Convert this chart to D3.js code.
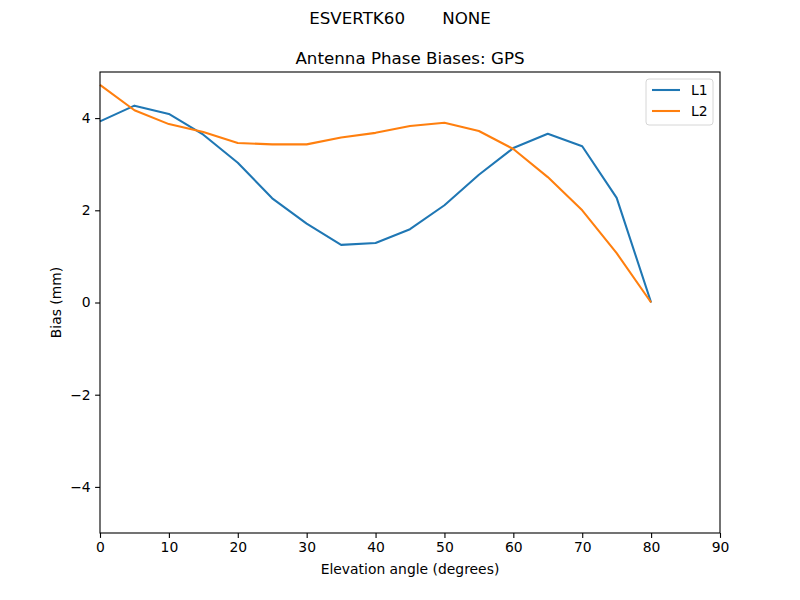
<!DOCTYPE html>
<meta charset="utf-8">
<style>
  body { margin: 0; background: #fff; }
  text { font-family: 'DejaVu Sans', sans-serif; fill: #000; }
  .line { fill: none; stroke-width: 2.08px; stroke-linejoin: round; }
</style>
<body>
<script src="https://d3js.org/d3.v7.min.js"></script>
<script>
// elevation angles and biases
var elev = [0, 5, 10, 15, 20, 25, 30, 35, 40, 45, 50, 55, 60, 65, 70, 75, 80];
var l1 = [3.93, 4.27, 4.09, 3.64, 3.03, 2.26, 1.71, 1.25, 1.29, 1.59, 2.11, 2.77, 3.35, 3.66, 3.39, 2.27, 0];
var l2 = [4.72, 4.17, 3.87, 3.70, 3.46, 3.43, 3.43, 3.58, 3.68, 3.83, 3.90, 3.72, 3.33, 2.72, 2.0, 1.07, 0];
var xTicks = [0, 10, 20, 30, 40, 50, 60, 70, 80, 90];
var yTicks = [-4, -2, 0, 2, 4];
var seriesNames = ["L1", "L2"];
var colors = ["#1f77b4", "#ff7f0e"];

// set the dimensions and margins of the graph
var margin = { top: 72, right: 80, bottom: 67, left: 100 },
  width = 800 - margin.left - margin.right,
  height = 600 - margin.top - margin.bottom;

var x = d3.scaleLinear().domain([0, 90]).range([0, width]);
var y = d3.scaleLinear().domain([-5, 5]).range([height, 0]);

var root = d3.select("body").append("svg")
  .attr("width", 800)
  .attr("height", 600);

root.append("text")
  .attr("x", 400).attr("y", 24)
  .attr("text-anchor", "middle")
  .style("font-size", "16.7px")
  .attr("xml:space", "preserve")
  .text("ESVERTK60       NONE");

var svg = root.append("g")
  .attr("transform", "translate(" + margin.left + "," + margin.top + ")");

svg.append("text")
  .attr("x", width / 2).attr("y", -8)
  .attr("text-anchor", "middle")
  .style("font-size", "16.7px")
  .text("Antenna Phase Biases: GPS");

var valueline = d3.line()
  .x(function (d, i) { return x(elev[i]); })
  .y(function (d) { return y(d); });

[l1, l2].forEach(function (s, i) {
  svg.append("path")
    .datum(s)
    .attr("class", "line")
    .attr("stroke", colors[i])
    .attr("d", valueline);
});

// axes
var fmt = function (d) { return String(d).replace("-", "\u2212"); };
var xAxis = svg.append("g")
  .attr("transform", "translate(0," + height + ")")
  .call(d3.axisBottom(x).tickValues(xTicks).tickSize(4.9).tickPadding(4.5));
var yAxis = svg.append("g")
  .call(d3.axisLeft(y).tickValues(yTicks).tickFormat(fmt).tickSize(4.9).tickPadding(4.5));
[xAxis, yAxis].forEach(function (a) {
  a.selectAll("text").style("font-size", "13.9px").attr("font-family", null);
  a.selectAll("line").attr("stroke", "#000").attr("stroke-width", 1.1);
  a.select(".domain").remove();
});

svg.append("rect")
  .attr("width", width).attr("height", height)
  .attr("fill", "none").attr("stroke", "#000").attr("stroke-width", 1.1);

svg.append("text")
  .attr("x", width / 2).attr("y", height + 41)
  .attr("text-anchor", "middle")
  .style("font-size", "13.9px")
  .text("Elevation angle (degrees)");

svg.append("text")
  .attr("transform", "translate(-39," + (height / 2) + ") rotate(-90)")
  .attr("text-anchor", "middle")
  .style("font-size", "13.9px")
  .text("Bias (mm)");

// legend
var lg = svg.append("g").attr("transform", "translate(" + (width - 74) + ",7)");
lg.append("rect")
  .attr("width", 67).attr("height", 46).attr("rx", 3)
  .attr("fill", "#fff").attr("fill-opacity", 0.8)
  .attr("stroke", "#d6d6d6").attr("stroke-width", 1);
seriesNames.forEach(function (n, i) {
  var ly = 11 + i * 21;
  lg.append("line")
    .attr("x1", 6).attr("x2", 34).attr("y1", ly).attr("y2", ly)
    .attr("stroke", colors[i]).attr("stroke-width", 2.08);
  lg.append("text")
    .attr("x", 45).attr("y", ly + 5)
    .style("font-size", "13.9px")
    .text(n);
});
</script>
</body>
